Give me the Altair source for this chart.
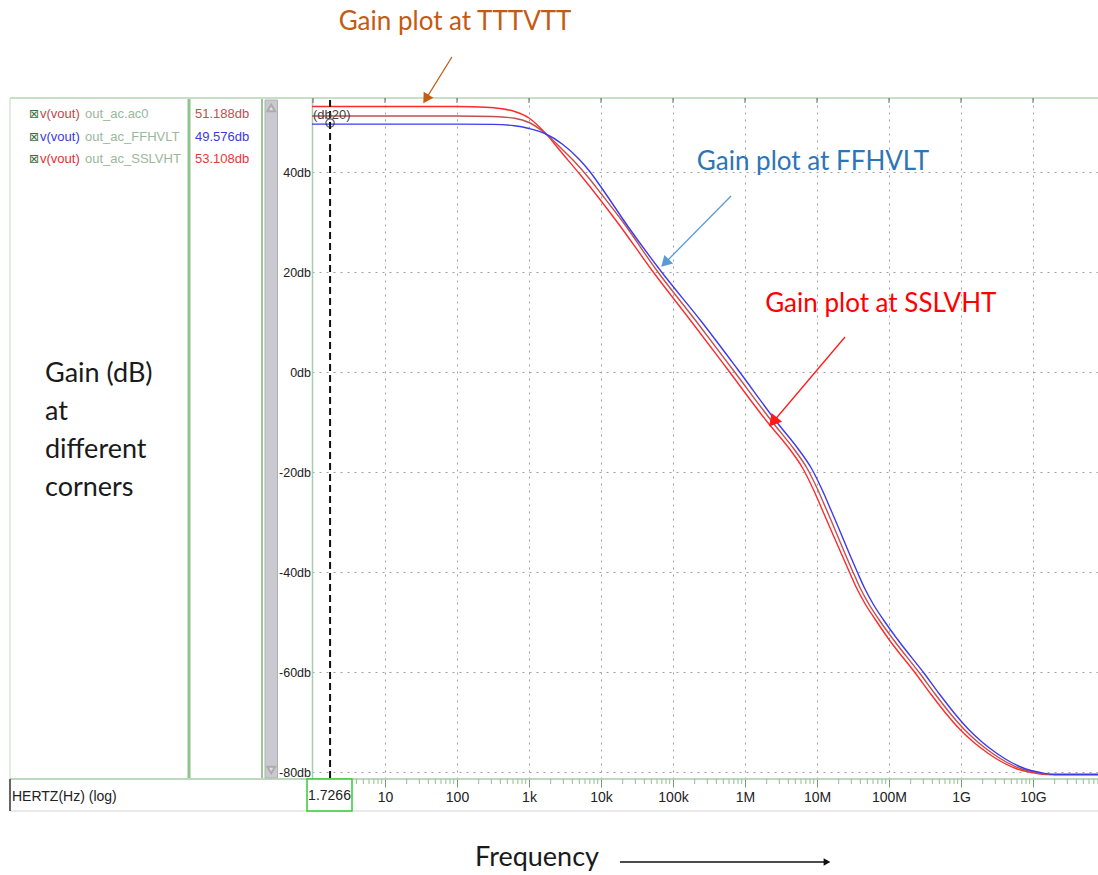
import altair as alt
import pandas as pd

# ---------------- data (frequency as log10 Hz, gain in dB) ----------------
series_names = ["SSLVHT", "TTTVTT", "FFHVLT"]
series_colors = ["#ff2a2a", "#c0504d", "#3b3bf0"]

logf_ss = [-0.014, 2.0, 2.4, 2.6, 2.8, 3.0, 3.22, 3.47, 3.71, 4.24, 4.71, 5.26, 5.76,
           6.31, 6.63, 6.80, 6.94, 7.08, 7.45, 7.55, 7.67, 7.81, 8.0, 8.37, 8.58, 8.78, 8.98,
           9.18, 9.38, 9.58, 9.78, 9.98, 10.18, 10.91]
db_ss = [53.11, 53.1, 52.95, 52.7, 52.1, 50.8, 47.9, 43.6, 39.5, 29.7, 20.3, 10, 0.5,
         -10, -15.6, -19.2, -23.2, -27.8, -40, -43.2, -46.4, -49.5, -53.5, -60.3, -64.4, -68.1, -71.4,
         -74.1, -76.3, -78.1, -79.4, -80.1, -80.5, -80.5]

logf_tt = [-0.014, 2.0, 2.5, 2.8, 3.0, 3.22, 3.47, 3.65, 3.82, 4.0, 4.31, 4.77, 5.33, 5.83,
           6.38, 6.69, 6.86, 7.00, 7.14, 7.50, 7.60, 7.72, 7.86, 8.06, 8.43, 8.64, 8.84, 9.04,
           9.24, 9.44, 9.64, 9.84, 10.04, 10.24, 10.91]
db_tt = [51.19, 51.19, 51.1, 50.75, 49.9, 47.8, 44.4, 41.8, 39.0, 35.7, 29.9, 20.4, 10, 0.5,
         -10, -15.6, -19.2, -23.2, -27.8, -40, -43.2, -46.4, -49.5, -53.5, -60.3, -64.4, -68.1, -71.4,
         -74.1, -76.3, -78.1, -79.4, -80.1, -80.5, -80.5]

logf_ff = [-0.014, 2.0, 2.5, 2.8, 3.0, 3.22, 3.47, 3.7, 3.85, 4.0, 4.38, 4.82, 5.40, 5.90,
           6.44, 6.75, 6.92, 7.06, 7.20, 7.56, 7.66, 7.78, 7.92, 8.12, 8.49, 8.70, 8.90, 9.10,
           9.30, 9.50, 9.70, 9.90, 10.10, 10.30, 10.91]
db_ff = [49.58, 49.58, 49.52, 49.25, 48.7, 47.7, 45.5, 42.5, 40.0, 37.0, 29.0, 20.4, 10, 0.5,
         -10, -15.6, -19.2, -23.2, -27.8, -40, -43.2, -46.4, -49.5, -53.5, -60.3, -64.4, -68.1, -71.4,
         -74.1, -76.3, -78.1, -79.4, -80.1, -80.5, -80.5]

x_tick_values = [10, 100, 1e3, 1e4, 1e5, 1e6, 1e7, 1e8, 1e9, 1e10]
x_tick_labels = ["10", "100", "1k", "10k", "100k", "1M", "10M", "100M", "1G", "10G"]
y_tick_values = [-80, -60, -40, -20, 0, 20, 40]
decades = [1, 10, 100, 1e3, 1e4, 1e5, 1e6, 1e7, 1e8, 1e9, 1e10]
minor_ticks = [m * d for d in decades for m in range(2, 10)]

cursor_freq = [1.7266]

legend_rows = [
    ("out_ac.ac0", "51.188db", "#c04848", "#c05050"),
    ("out_ac_FFHVLT", "49.576db", "#3a3ad8", "#3a3ae0"),
    ("out_ac_SSLVHT", "53.108db", "#e03030", "#e83838"),
]

# annotations in data units (freq Hz, dB)
ann_text = ["Gain plot at TTTVTT", "Gain plot at FFHVLT", "Gain plot at SSLVHT"]
ann_color = ["#c55a11", "#2e75b6", "#ff0000"]
arrow_color = ["#c55a11", "#5b9bd5", "#ff1a1a"]
ann_f = [94, 8.8e6, 7.7e7]
ann_db = [70.0, 42.0, 13.6]
arr_f1 = [85, 6.4e5, 2.45e7]
arr_db1 = [63.0, 35.2, 7.0]
arr_f2 = [37, 7.74e4, 2.45e6]
arr_db2 = [54.6, 21.8, -10.0]
arr_ang = [212, 225, 220]
arr_size = [130, 150, 190]

# ---------------- layout constants ----------------
OX, OY = 312, 98
W, H = 786, 681
XMIN, XMAX = 0.9685, 8.0e10
YMIN, YMAX = -81.4, 54.8
SANS = "Liberation Sans, Arial, sans-serif"
ANNOT = "Lato, sans-serif"

dummy = pd.DataFrame({"d": [0]})


def px(x):
    return alt.value(x - OX)


def py(y):
    return alt.value(y - OY)


def hrule(x1, x2, y, color, w=1.0):
    return alt.Chart(dummy).mark_rule(color=color, strokeWidth=w).encode(x=px(x1), x2=px(x2), y=py(y))


def vrule(x, y1, y2, color, w=1.0):
    return alt.Chart(dummy).mark_rule(color=color, strokeWidth=w).encode(x=px(x), y=py(y1), y2=py(y2))


def text(x, y, s, color="#222", size=13, font=SANS, align="left"):
    return alt.Chart(dummy).mark_text(text=s, color=color, fontSize=size, font=font,
                                      align=align, baseline="middle").encode(x=px(x), y=py(y))


rows = []
for name, lf, ds in [("SSLVHT", logf_ss, db_ss), ("TTTVTT", logf_tt, db_tt), ("FFHVLT", logf_ff, db_ff)]:
    for l, d in zip(lf, ds):
        rows.append({"series": name, "f": 10 ** l, "db": d})
df = pd.DataFrame(rows)

xscale = alt.Scale(type="log", domain=[XMIN, XMAX], nice=False)
yscale = alt.Scale(domain=[YMIN, YMAX], nice=False, zero=False)

label_expr = "{" + ",".join("'%d':'%s'" % (v, l) for v, l in zip(x_tick_values, x_tick_labels)) + "}[''+datum.value]"

x_axis = alt.Axis(values=x_tick_values, labelExpr=label_expr, grid=True, gridDash=[2, 5],
                  gridColor="#a0a0a0", gridWidth=1, domain=False, ticks=True, tickSize=8,
                  tickColor="#6f9f6f", labelFont=SANS, labelFontSize=14, labelColor="#222",
                  labelPadding=3, labelFlush=False, title=None)
y_axis = alt.Axis(values=y_tick_values, labelExpr="datum.value + 'db'", grid=True, gridDash=[2, 5],
                  gridColor="#a0a0a0", gridWidth=1, domain=True, domainColor="#a8d0a8", domainWidth=1.5,
                  ticks=False, labelFont=SANS, labelFontSize=12.5, labelColor="#222", labelPadding=1.5,
                  title=None)


def X(field):
    return alt.X(field, scale=xscale, axis=x_axis, title=None)


def Y(field):
    return alt.Y(field, scale=yscale, axis=y_axis, title=None)


layers = []

# chrome behind
layers.append(alt.Chart(dummy).mark_rect(fill="#c9c9cf", stroke="#b0b0b4").encode(
    x=px(265), x2=px(277.5), y=py(100), y2=py(778)))
layers.append(alt.Chart(dummy).mark_point(shape="triangle-up", filled=True, fill="#ececec",
                                          stroke="#a0a0a0", size=60).encode(x=px(271.2), y=py(108)))
layers.append(alt.Chart(dummy).mark_point(shape="triangle-down", filled=True, fill="#ececec",
                                          stroke="#a0a0a0", size=60).encode(x=px(271.2), y=py(770)))
layers.append(vrule(189, 99, 778, "#8fc48f", 3))
layers.append(vrule(262, 99, 778, "#98c898", 2))
layers.append(vrule(10, 98, 779, "#c5dcc5", 1))

# main lines
lines = alt.Chart(df).mark_line(strokeWidth=1.4, interpolate="monotone").encode(
    x=X("f:Q"),
    y=Y("db:Q"),
    color=alt.Color("series:N", scale=alt.Scale(domain=series_names, range=series_colors), legend=None),
)
layers.append(lines)

# frame lines
layers.append(hrule(10, 1098, 98, "#b5d5b5", 1.5))
layers.append(hrule(10, 1098, 779, "#a9cba9", 1.5))
layers.append(hrule(10, 1098, 811, "#d4d4d4", 1))
layers.append(vrule(10, 779, 811, "#333333", 1.5))

# minor ticks and top ticks
layers.append(alt.Chart(pd.DataFrame({"f": [v for v in minor_ticks if XMIN <= v <= XMAX]})).mark_rule(
    color="#8fbf8f", strokeWidth=1).encode(x=X("f:Q"), y=alt.value(H), y2=alt.value(H + 5)))
layers.append(alt.Chart(pd.DataFrame({"f": [v for v in decades if XMIN <= v <= XMAX]})).mark_rule(
    color="#666666", strokeWidth=1).encode(x=X("f:Q"), y=alt.value(0), y2=alt.value(5)))

# cursor
cur = pd.DataFrame({"f": cursor_freq, "db": [49.8]})
layers.append(alt.Chart(cur).mark_rule(color="#111", strokeWidth=2, strokeDash=[7, 4]).encode(
    x=X("f:Q"), y=alt.value(2), y2=alt.value(H - 1)))
layers.append(alt.Chart(cur).mark_point(shape="circle", filled=False, color="#222", size=70,
                                        strokeWidth=1.2).encode(x=X("f:Q"), y=Y("db:Q")))
layers.append(text(313, 115, "(db20)", "#444", 13))

# legend panel
for i, (nm, val, c1, c2) in enumerate(legend_rows):
    yy = 114 + i * 22.5
    layers.append(text(29, yy, "\u22a0", "#3f6f3f", 12, "DejaVu Sans"))
    layers.append(text(40, yy, "v(vout)", c1, 13))
    layers.append(text(85, yy, nm, "#9ab89a", 13))
    layers.append(text(195, yy, val, c2, 13))

# bottom strip
layers.append(text(12, 797, "HERTZ(Hz) (log)", "#222", 14))
layers.append(alt.Chart(dummy).mark_rect(fill="white", stroke="#33cc33", strokeWidth=1.5).encode(
    x=px(307), x2=px(352), y=py(779), y2=py(811)))
layers.append(text(329.5, 796, "1.7266", "#222", 14, align="center"))

# annotations
adf = pd.DataFrame({"t": ann_text, "c": ann_color, "ac": arrow_color, "f": ann_f, "db": ann_db,
                    "f1": arr_f1, "db1": arr_db1, "f2": arr_f2, "db2": arr_db2,
                    "ang": arr_ang, "sz": arr_size})
layers.append(alt.Chart(adf).mark_rule(strokeWidth=1.3).encode(
    x=X("f1:Q"), x2="f2:Q", y=Y("db1:Q"), y2="db2:Q",
    color=alt.Color("ac:N", scale=None)))
layers.append(alt.Chart(adf).mark_point(shape="triangle-up", filled=True, opacity=1).encode(
    x=X("f2:Q"), y=Y("db2:Q"),
    angle=alt.Angle("ang:Q", scale=None), size=alt.Size("sz:Q", scale=None),
    color=alt.Color("ac:N", scale=None)))
layers.append(alt.Chart(adf).mark_text(font=ANNOT, fontSize=26, align="center", baseline="middle").encode(
    x=X("f:Q"), y=Y("db:Q"), text="t:N", color=alt.Color("c:N", scale=None)))

# left text and frequency label
layers.append(alt.Chart(dummy).mark_text(text="Gain (dB)\nat\ndifferent\ncorners", lineBreak="\n", lineHeight=38,
                                         font=ANNOT, fontSize=27, align="left", baseline="middle",
                                         color="#1a1a1a").encode(x=px(45), y=py(374)))
layers.append(text(537, 858, "Frequency", "#1a1a1a", 27, ANNOT, "center"))
layers.append(hrule(620, 824, 862, "#111", 1.3))
layers.append(alt.Chart(dummy).mark_point(shape="triangle-up", filled=True, color="#111", size=60,
                                          angle=90, opacity=1).encode(x=px(827), y=py(862)))

chart = alt.layer(*layers).properties(
    width=W, height=H,
    padding={"left": OX, "top": OY, "right": 0, "bottom": 875 - OY - H},
    autosize=alt.AutoSizeParams(type="none"),
    background="white",
).configure_view(strokeWidth=0)

chart.save("out.html", embed_options={"renderer": "svg", "actions": False})
